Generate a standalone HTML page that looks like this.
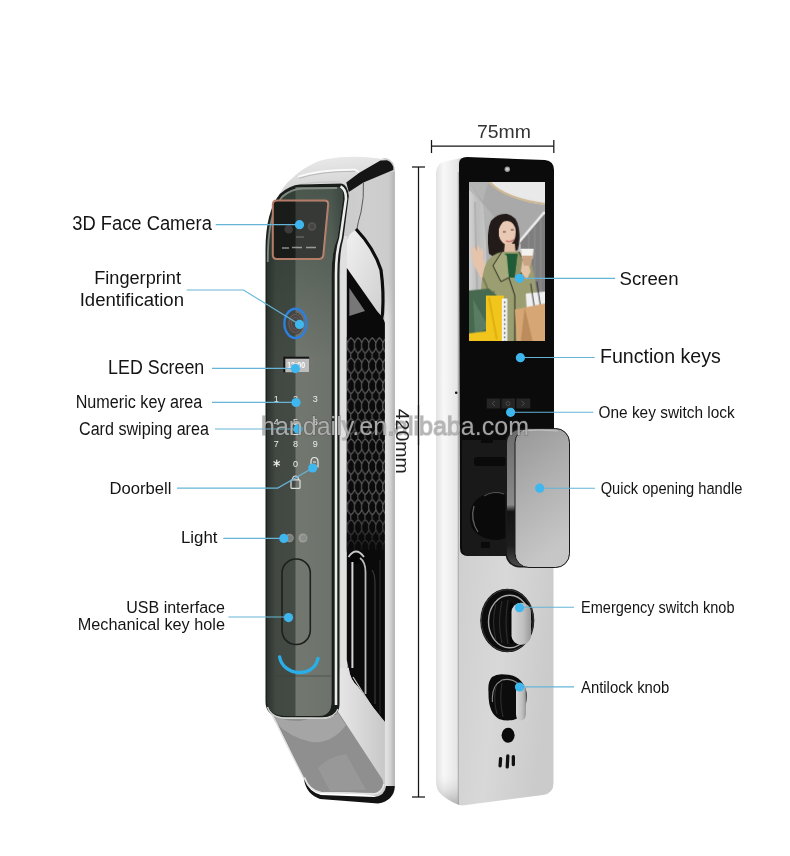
<!DOCTYPE html>
<html><head><meta charset="utf-8">
<style>
html,body{margin:0;padding:0;background:#fff;width:790px;height:856px;overflow:hidden}
svg{display:block;position:absolute;left:0;top:0;will-change:transform}
text{font-family:"Liberation Sans",sans-serif}
</style></head>
<body>
<svg width="790" height="856" viewBox="0 0 790 856">
<defs>
  <linearGradient id="hexFade" x1="0" y1="0" x2="0" y2="1">
    <stop offset="0" stop-color="#0a0a0a" stop-opacity="0"/>
    <stop offset="1" stop-color="#0a0a0a" stop-opacity="0.85"/>
  </linearGradient>
  <linearGradient id="greenTop" x1="0" y1="0" x2="0" y2="1">
    <stop offset="0" stop-color="#1c3024" stop-opacity="0.45"/>
    <stop offset="1" stop-color="#1c3024" stop-opacity="0"/>
  </linearGradient>
  <linearGradient id="vfade" x1="0" y1="0" x2="0" y2="1">
    <stop offset="0" stop-color="#fff" stop-opacity="0"/>
    <stop offset="0.09" stop-color="#fff" stop-opacity="1"/>
    <stop offset="1" stop-color="#fff" stop-opacity="1"/>
  </linearGradient>
  <mask id="barMask" maskUnits="userSpaceOnUse" x="380" y="270" width="20" height="540">
    <rect x="380" y="280" width="20" height="518" fill="url(#vfade)"/>
  </mask>
  <linearGradient id="edgeG" x1="0" y1="0" x2="1" y2="0">
    <stop offset="0" stop-color="#a0a0a0" stop-opacity="0"/>
    <stop offset="1" stop-color="#9a9a9a" stop-opacity="0.45"/>
  </linearGradient>
  <linearGradient id="sideB" x1="0" y1="0" x2="0" y2="1">
    <stop offset="0" stop-color="#ffffff" stop-opacity="0"/>
    <stop offset="1" stop-color="#8a8a8a" stop-opacity="0.6"/>
  </linearGradient>
  <linearGradient id="rimG" x1="0" y1="0" x2="0" y2="1">
    <stop offset="0" stop-color="#6c6c6c"/>
    <stop offset="0.55" stop-color="#8a8a8a"/>
    <stop offset="0.6" stop-color="#141414"/>
    <stop offset="0.85" stop-color="#1e1e1e"/>
    <stop offset="1" stop-color="#4a4a4a"/>
  </linearGradient>
  <linearGradient id="leverG" x1="0" y1="0" x2="1" y2="0">
    <stop offset="0" stop-color="#d6d6d6"/>
    <stop offset="0.6" stop-color="#c0c0c0"/>
    <stop offset="1" stop-color="#9a9a9a"/>
  </linearGradient>
  <linearGradient id="capG" x1="0" y1="0" x2="0.3" y2="1">
    <stop offset="0" stop-color="#ececec"/>
    <stop offset="0.6" stop-color="#dcdcdc"/>
    <stop offset="1" stop-color="#d2d2d2"/>
  </linearGradient>
  <linearGradient id="archG" x1="0" y1="0" x2="1" y2="1">
    <stop offset="0" stop-color="#f0f0f0"/>
    <stop offset="1" stop-color="#d0d0d0"/>
  </linearGradient>
  <linearGradient id="facetG" x1="0" y1="0" x2="1" y2="0">
    <stop offset="0" stop-color="#e8e8e8"/>
    <stop offset="1" stop-color="#c8c8c8"/>
  </linearGradient>
  <linearGradient id="barG" x1="0" y1="0" x2="1" y2="0">
    <stop offset="0" stop-color="#e2e2e2"/>
    <stop offset="0.6" stop-color="#dadada"/>
    <stop offset="1" stop-color="#c6c6c6"/>
  </linearGradient>
  <linearGradient id="chromeR" x1="0" y1="0" x2="1" y2="0">
    <stop offset="0" stop-color="#c9c9c9"/>
    <stop offset="0.5" stop-color="#d0cfd0"/>
    <stop offset="1" stop-color="#cbcbcb"/>
  </linearGradient>
  <linearGradient id="panelL" x1="0" y1="0" x2="1" y2="0">
    <stop offset="0" stop-color="#2c322d"/>
    <stop offset="0.12" stop-color="#424943"/>
    <stop offset="1" stop-color="#474d47"/>
  </linearGradient>
  <linearGradient id="stripe" x1="0" y1="0" x2="1" y2="0">
    <stop offset="0" stop-color="#72786f"/>
    <stop offset="0.75" stop-color="#6d736c"/>
    <stop offset="1" stop-color="#535a54"/>
  </linearGradient>
  <linearGradient id="sideW" x1="0" y1="0" x2="1" y2="0">
    <stop offset="0" stop-color="#e2e2e2"/>
    <stop offset="0.3" stop-color="#f8f8f8"/>
    <stop offset="0.8" stop-color="#e6e6e6"/>
    <stop offset="1" stop-color="#c8c8c8"/>
  </linearGradient>
  <linearGradient id="faceS" x1="0" y1="0" x2="1" y2="0.3">
    <stop offset="0" stop-color="#cfcfcf"/>
    <stop offset="0.5" stop-color="#d8d8d8"/>
    <stop offset="1" stop-color="#cbcbcb"/>
  </linearGradient>
  <linearGradient id="handleG" x1="0" y1="0" x2="0.3" y2="1">
    <stop offset="0" stop-color="#979797"/>
    <stop offset="0.5" stop-color="#b0b0b0"/>
    <stop offset="1" stop-color="#c6c6c6"/>
  </linearGradient>
  <linearGradient id="bottomG" x1="0" y1="0" x2="1" y2="1">
    <stop offset="0" stop-color="#a2a2a2"/>
    <stop offset="0.45" stop-color="#8e8e8e"/>
    <stop offset="1" stop-color="#9c9c9c"/>
  </linearGradient>
  <pattern id="hex" x="347.5" y="338" width="7.1" height="20.2" patternUnits="userSpaceOnUse">
    <rect width="7.1" height="20.2" fill="#0b0b0b"/>
    <path d="M0,5 Q1.2,1.2 3.55,0 Q5.9,1.2 7.1,5 M0,5 Q-0.6,7.5 0,10.1 M7.1,5 Q6.5,7.5 7.1,10.1 M0,10.1 Q1.2,13.9 3.55,15.1 Q5.9,13.9 7.1,10.1 M3.55,15.1 Q2.95,17.6 3.55,20.2 M-3.55,-5.1 L-3.55,0" stroke="#5e5e5e" stroke-width="1.05" fill="none"/>
  </pattern>
</defs>

<!-- ============ LEFT LOCK ============ -->
<!-- chrome body base -->
<path d="M340,186 L362,176 Q376,158 386,158 Q395,160 395,172 L395,786 Q395,798 386,798 L340,790 L336,700 Z" fill="url(#chromeR)"/>
<!-- cap -->
<path d="M279.7,194 Q285,184 290.8,179.6 Q300,170 309.8,165.4 Q318,160.5 327.2,159 Q340,156.5 354,156.7 Q372,157 382.6,159 Q389,161 392.9,168.6 L393,171 L363.6,181 L348.8,192 Q345,184.5 341.5,183.6 L300,184.5 Q288,186 279.7,194 Z" fill="url(#capG)"/>
<path d="M298,176.8 Q320,169.5 355.3,169.6 L359.3,172.2" stroke="#fbfbfb" stroke-width="1.6" fill="none"/>
<path d="M299,178.3 Q320,171.3 355,171.3" stroke="#a9a9a9" stroke-width="0.7" fill="none"/>
<path d="M285,190 Q300,181 340,182" stroke="#c8c8c8" stroke-width="1.2" fill="none"/>
<!-- black band -->
<path d="M346.3,182.4 L359.3,172.7 L380.4,160.5 L386.9,160.2 Q391.7,162 393.3,167 L393.3,170 L363.4,182.4 L348.8,192.1 Z" fill="#151515"/>
<rect x="340.3" y="236" width="7" height="432" fill="#e0e0e0"/>
<line x1="348.3" y1="240" x2="348.3" y2="668" stroke="#5a5a5a" stroke-width="1.2"/>
<!-- thin contour -->
<path d="M363.4,182.4 Q364.2,198 361,212 Q358,222 356.5,231" stroke="#5a5a5a" stroke-width="1" fill="none"/>
<!-- handle arch surface -->
<path d="M347,240 Q350,232 356,230 Q372,246 381,270 Q383,290 382.6,312 L377,311 L347,268 Z" fill="url(#archG)"/>
<path d="M356,229 Q374,248 381,270 Q384,292 382.6,313 Q382,322 376,323" stroke="#0e0e0e" stroke-width="3.2" fill="none"/>
<!-- cavity -->
<path d="M346.8,268 L377,311 L383,318 L385,323 L385,722 L373,707.3 L358,686.7 Q350,680 348.7,668 L346.8,660 Z" fill="#0a0a0a"/>
<path d="M349.3,288 L365,311 L349.3,316 Z" fill="#777"/>
<rect x="346.8" y="337" width="38.2" height="213" fill="url(#hex)"/>
<rect x="346.8" y="512" width="38.2" height="40" fill="url(#hexFade)"/>
<circle cx="355.5" cy="557" r="7" fill="#050505"/>
<!-- lower cavity lines -->
<path d="M348.5,557 Q356,546 364,557" stroke="#c8c8c8" stroke-width="1.8" fill="none"/>
<path d="M352.4,562 L352.4,668" stroke="#d6d6d6" stroke-width="2" fill="none"/>
<path d="M353,677 L372,707" stroke="#cfcfcf" stroke-width="1.2" fill="none"/>
<path d="M360,558 Q365.5,562 365.5,572 L365.5,694" stroke="#b8b8b8" stroke-width="1.8" fill="none"/>
<path d="M372,570 Q375,574 375,584 L375,704" stroke="#3a3a3a" stroke-width="1.2" fill="none"/>
<path d="M380,560 L380,714" stroke="#2a2a2a" stroke-width="1" fill="none"/>
<!-- lower chrome facet -->
<path d="M340,668 L348.7,668 Q350,680 358,686.7 L373,707.3 L385,722.5 L385,798 L382.3,779.2 L336.2,715.4 Z" fill="url(#facetG)"/>
<!-- right chrome bar -->
<rect x="384.9" y="280" width="9.9" height="508" fill="url(#barG)" mask="url(#barMask)"/>
<rect x="388" y="172" width="6.8" height="616" fill="url(#edgeG)"/>
<!-- bottom slanted piece -->
<path d="M268,705 Q274,718 290,719 L326,719 Q336,717 337,710 L382.3,779.2 Q386,788 378,793 L320,792 Q308,789 304.3,779.2 Z" fill="#8f8f8f"/>
<path d="M270,712 Q282,722 300,721 L337,712 L346,725 Q332,744 312,742 Q290,738 275,722 Z" fill="#b4b4b4" opacity="0.6"/>
<path d="M318,768 Q330,756 346,754 L366,790 L330,791 Z" fill="#a4a4a4" opacity="0.45"/>
<path d="M272,714 Q290,752 304.3,779.2" stroke="#dedede" stroke-width="1.2" fill="none"/>
<path d="M304,779 Q309,792 321,795 L374,797 Q385,796 386,786 L394.8,786 Q394,801 378,803.5 L320,799 Q306,794 304,779 Z" fill="#131313"/>
<path d="M304.5,777.5 Q309,790.5 321,792.5 L374,794 Q382,793 384,784" stroke="#e4e4e4" stroke-width="1.6" fill="none"/>
<!-- dark front panel -->
<path d="M279.7,194 Q290,185 300,184.5 L341.5,183.6 Q347.8,185 348.8,196 L343.5,238 Q339.5,252 339.5,275 L339.5,704 Q339.5,717.5 324,717.5 L284,717.5 Q265.5,716.5 265.5,702 L265.5,250 Q265.5,212 279.7,194 Z" fill="#1a1e1b"/>
<path d="M336,705 L336,275 Q336,252 340.5,238 L346,199 Q346,189 340.5,186.5" stroke="#ececec" stroke-width="2.6" fill="none"/>
<path d="M282,196 Q292,188 302,187.5 L338,187 Q343.5,188.5 343,198 L337.5,238 Q331.5,252 331.5,275 L331.5,702 Q331.5,716 318,716 L285,716 Q266.8,715 266.8,700 L266.8,250 Q266.8,213 282,196 Z" fill="url(#panelL)"/>
<path d="M295.5,187.3 L338,187 Q343.5,188.5 343,198 L337.5,238 Q331.5,252 331.5,275 L331.5,702 Q331.5,716 318,716 L295.5,716 Z" fill="url(#stripe)"/>
<path d="M282,196 Q292,188 302,187.5 L338,187 Q343.5,188.5 343,198 L337.5,238 Q331.5,252 331.5,275 L331.5,360 L267,360 L267,250 Q267,213 282,196 Z" fill="url(#greenTop)"/>
<path d="M267.8,262 Q267.5,214 282,197 Q291,189 302,188.5 L337,188" stroke="#8e958f" stroke-width="1.8" fill="none" opacity="0.85"/>
<path d="M267.5,707 Q271,717.5 286,718.3 L322,718.3 Q335,717.5 338,709" stroke="#cfd1cf" stroke-width="1.4" fill="none"/>
<!-- camera -->
<path d="M277,200.5 L324.5,200.5 Q328.6,200.5 328.2,204.6 L323.4,254.8 Q323,259 318.8,259 L277,259 Q272.8,259 272.8,254.8 L272.8,204.7 Q272.8,200.5 277,200.5 Z" fill="#1a1c1a" stroke="#b57c68" stroke-width="2"/>
<circle cx="288.7" cy="229.3" r="4.3" fill="#3c3a3a"/>
<circle cx="312" cy="226.5" r="4.3" fill="#3c3a3a"/>
<circle cx="312" cy="226.5" r="2.5" fill="#2a2828"/>
<path d="M282,248 L289,248 M292,247.5 L302,247.5 M306,247.5 L316,247.5" stroke="#8a8a8a" stroke-width="1.3"/>
<path d="M296,237 L304,237" stroke="#777" stroke-width="0.8"/>
<!-- glass reflection overlay on camera -->
<path d="M295.5,201 L328,201 L323,258 L295.5,258 Z" fill="#ffffff" opacity="0.13"/>
<!-- fingerprint -->
<ellipse cx="295.4" cy="323.4" rx="11" ry="14.6" fill="none" stroke="#2f7fdc" stroke-width="2.4"/>
<ellipse cx="295.4" cy="323.4" rx="8" ry="11" fill="#4a4644"/>
<ellipse cx="295.4" cy="323.4" rx="6.5" ry="9" fill="none" stroke="#6e6260" stroke-width="0.9"/>
<ellipse cx="295.4" cy="323.4" rx="4" ry="6" fill="none" stroke="#6a5e5c" stroke-width="0.9"/>
<!-- LED screen -->
<rect x="283.3" y="356.7" width="25.9" height="15.6" fill="#141414"/>
<rect x="285.3" y="358.7" width="23.9" height="13.6" fill="#bdbdbd"/>
<text x="296.2" y="368" font-size="8.6" font-weight="bold" fill="#fbfbfb" text-anchor="middle" textLength="18" lengthAdjust="spacingAndGlyphs">12:00</text>
<!-- keypad -->
<g font-size="9" fill="#ececec" text-anchor="middle">
<text x="276.2" y="401.5">1</text><text x="295.5" y="401.5">2</text><text x="315.2" y="401.5">3</text>
<text x="276.2" y="425">4</text><text x="295.5" y="425">5</text><text x="315.2" y="425">6</text>
<text x="276.2" y="447">7</text><text x="295.5" y="447">8</text><text x="315.2" y="447">9</text>
<text x="295.5" y="466.5">0</text>
</g>
<path d="M276.7,459.8 L276.7,467 M273.5,461.6 L279.9,465.2 M273.5,465.2 L279.9,461.6" stroke="#ececec" stroke-width="1.2"/>
<path d="M311,467.5 L311,462 Q311,457.5 314.5,457.5 Q318,457.5 318,462 L318,467.5 M313,462 L316,462 M312.5,465.5 L316.5,465.5" stroke="#e6e6e6" stroke-width="1.2" fill="none"/>
<path d="M292.5,480 Q292.5,476 295.5,476 Q298.5,476 298.5,480" stroke="#e0e0e0" stroke-width="1.2" fill="none"/>
<rect x="291" y="479.8" width="9" height="8.6" rx="1" stroke="#e0e0e0" stroke-width="1.2" fill="none"/>
<rect x="291.5" y="423.5" width="8" height="11" rx="1.5" stroke="#dcdcdc" stroke-width="1" fill="none"/>
<path d="M293,430 L298,430" stroke="#dcdcdc" stroke-width="0.8"/>
<!-- lights -->
<circle cx="289.5" cy="538" r="4.3" fill="#8e8e8c"/>
<circle cx="290" cy="538" r="2.8" fill="#7c7c7a"/>
<circle cx="303" cy="538" r="4.5" fill="#9c9e9a"/>
<circle cx="303.5" cy="538" r="3" fill="#8c8e8a"/>
<!-- USB cover -->
<rect x="282" y="559" width="28.3" height="85.5" rx="14" ry="14" fill="none" stroke="#1e201e" stroke-width="1.6"/>
<!-- seam -->
<path d="M268,676 L331,676" stroke="#3a3e3a" stroke-width="1" opacity="0.6"/>
<!-- smile -->
<path d="M279.6,657 C283.5,677 314,678 318,658.5" stroke="#2aaee8" stroke-width="3.4" fill="none" stroke-linecap="round"/>

<!-- ============ RIGHT LOCK ============ -->
<!-- side white -->
<path d="M447,161 L462,158 L462,805 L459,805 Q446,800 439,792 Q436,788 436,780 L436,175 Q436,162 447,161 Z" fill="url(#sideW)"/>
<path d="M436,770 L436,780 Q436,788 439,792 Q446,800 459,805 L462,805 L462,770 Z" fill="url(#sideB)" />
<line x1="458.3" y1="172" x2="458.3" y2="804" stroke="#a0a0a0" stroke-width="0.9"/>
<!-- silver lower face -->
<path d="M459,540 L553.5,540 L553.5,783 Q553.5,793.5 543,795 L462,805.5 Q459,805.5 459,803 Z" fill="url(#faceS)"/>
<!-- black screen face -->
<path d="M459,164 Q459,157 467,157 L545,160 Q554,161 554,170 L554,445 L520,445 L520,540 L506,556 L468,556 Q460,556 460,548 Z" fill="#0b0b0b"/>
<circle cx="507.3" cy="169.2" r="2.7" fill="#9a9a9a"/>
<circle cx="507.3" cy="169.2" r="1.4" fill="#cfcfcf"/>
<circle cx="456.2" cy="392.8" r="1.3" fill="#111"/>
<!-- photo -->
<svg x="469" y="182" width="75.6" height="159.3" viewBox="0 0 76 160" preserveAspectRatio="none">
  <defs>
    <linearGradient id="ph_bg" x1="0" y1="0" x2="0" y2="1">
      <stop offset="0" stop-color="#b9b9b9"/>
      <stop offset="1" stop-color="#a2a2a2"/>
    </linearGradient>
    <linearGradient id="ph_wall" x1="0" y1="0" x2="1" y2="0">
      <stop offset="0" stop-color="#d2d2d2"/>
      <stop offset="0.5" stop-color="#bdbdbd"/>
      <stop offset="1" stop-color="#c8c8c8"/>
    </linearGradient>
  </defs>
  <rect width="76" height="160" fill="url(#ph_bg)"/>
  <!-- ceiling -->
  <path d="M0,0 L76,0 L76,30 L50,60 L30,40 L14,22 Z" fill="#a9a9a9"/>
  <path d="M22,0 Q38,18 76,23 L76,0 Z" fill="#e9e9e9"/>
  <path d="M20,0 Q37,17 76,22" stroke="#cdb995" stroke-width="2.2" fill="none"/>
  <path d="M0,0 L20,0 Q17,6 14,20" fill="#b4b4b4"/>
  <!-- left wall -->
  <path d="M0,8 L14,22 L17,60 L18,108 L0,112 Z" fill="url(#ph_wall)"/>
  <path d="M6,20 L8,108" stroke="#aaaaaa" stroke-width="2" opacity="0.7"/>
  <!-- right wall -->
  <path d="M50,60 L76,29 L76,160 L52,160 Z" fill="#7e7e7e"/>
  <path d="M48,63 L76,30" stroke="#eeeeee" stroke-width="2.6"/>
  <path d="M51,62 L52,160" stroke="#d8d8d8" stroke-width="1.5"/>
  <path d="M60,52 L60,160 M66,45 L66,160 M72,38 L72,160" stroke="#909090" stroke-width="1.2"/>
  <!-- hair back -->
  <path d="M20,72 Q17,50 22,39 Q29,31 38,32 Q48,34 50,46 Q52,58 49,68 L42,72 L26,76 Z" fill="#221b19"/>
  <!-- face -->
  <path d="M30,47 Q31,39 38.5,39 Q46.5,40 47,50 Q47,60 40,64 Q32,62 30,54 Z" fill="#e9c9b4"/>
  <path d="M24,41 Q30,35 39,36 Q33,39 30,47 L27,58 Z" fill="#221b19"/>
  <path d="M37,59 Q41,61 45,58" stroke="#c46a6a" stroke-width="1.2" fill="none"/>
  <path d="M34,50 L37,50 M42,48 L45,48" stroke="#3a2a26" stroke-width="0.9"/>
  <!-- neck -->
  <path d="M36,62 L46,62 L47,72 L35,72 Z" fill="#e2bea6"/>
  <!-- raised hand -->
  <path d="M2,68 Q3,62 6,66 L8,70 L9,63 Q11,64 11,70 L12,66 Q15,68 14,76 L20,96 L14,100 L4,82 Z" fill="#e6c4ab"/>
  <!-- coat -->
  <path d="M12,160 L12,110 Q13,90 18,80 Q24,72 33,70 L50,70 Q60,74 64,86 L68,110 L66,160 Z" fill="#9b9e70"/>
  <path d="M35,72 L49,72 L46,96 L40,96 Z" fill="#1f5b37"/>
  <path d="M33,70 L24,84 L32,100 L40,96 L38,74 Z" fill="#a7aa7c"/>
  <path d="M50,70 L56,82 L50,98 L46,96 Z" fill="#8f9264"/>
  <path d="M33,70 L24,84 L32,100 L40,96 L46,114 L46,160" stroke="#2a2a1e" stroke-width="1" fill="none"/>
  <path d="M50,70 L56,82 L50,98" stroke="#2a2a1e" stroke-width="0.9" fill="none"/>
  <path d="M14,96 Q18,104 20,112 L26,110" stroke="#7d8058" stroke-width="2" fill="none"/>
  <!-- right arm + cup -->
  <path d="M56,84 Q64,88 66,100 L64,116 L56,118 L58,100 Z" fill="#9b9e70"/>
  <path d="M54,76 Q60,80 62,90 L58,98 L52,90 Z" fill="#e6c4aa"/>
  <path d="M52,67 L65,67 L64,77 L53,77 Z" fill="#f4f2ee"/>
  <path d="M53,74 L64,74 L62,84 L55,84 Z" fill="#caa584"/>
  <!-- bags -->
  <path d="M0,109 L20,107 L28,114 L25,152 L0,156 Z" fill="#46694f"/>
  <path d="M4,118 L20,146 L6,154 Z" fill="#5a7c62"/>
  <path d="M17,114 L35,114 L35,160 L0,160 L0,152 L17,150 Z" fill="#f2c51c"/>
  <path d="M20,116 L28,158" stroke="#e0b010" stroke-width="2"/>
  <rect x="33" y="117" width="5.5" height="43" fill="#f2f2f2"/>
  <path d="M35.7,120 L35.7,160" stroke="#555" stroke-width="1.4" stroke-dasharray="1.6,2.8"/>
  <path d="M57,112 L76,110 L76,127 L58,128 Z" fill="#f0f0f0"/>
  <path d="M62,102 L66,128 M68,100 L72,126" stroke="#2a2a2a" stroke-width="0.9"/>
  <path d="M46,128 L76,122 L76,160 L48,160 Z" fill="#d6a775"/>
  <path d="M56,126 L64,160 L52,160 Z" fill="#bd8c5c"/>
</svg>
<!-- function keys -->
<rect x="486.7" y="398.5" width="13.5" height="10" fill="#252525"/>
<rect x="501.5" y="398.5" width="13.5" height="10" fill="#252525"/>
<rect x="516.3" y="398.5" width="14" height="10" fill="#252525"/>
<path d="M495,401 L492,403.5 L495,406 M508,403.5 m-2,0 a2,2 0 1,0 4,0 a2,2 0 1,0 -4,0 M521.5,401 L524.5,403.5 L521.5,406" stroke="#555" stroke-width="0.8" fill="none"/>
<!-- cavity internals -->
<path d="M462,440 L506,440 L506,556 L470,556 Q462,556 462,548 Z" fill="#191919"/>
<rect x="474" y="457" width="32" height="9" rx="3" fill="#0a0a0a"/>
<rect x="481" y="438" width="12" height="5" fill="#0a0a0a"/>
<path d="M506,495 Q490,488 476,500 Q466,512 472,528 Q480,540 498,540 L506,538 Z" fill="#0a0a0a"/>
<path d="M474,506 Q470,520 478,532" stroke="#666" stroke-width="1.2" fill="none"/>
<path d="M484,496 Q494,490 504,494" stroke="#555" stroke-width="1" fill="none"/>
<rect x="481" y="542" width="9" height="6" fill="#0a0a0a"/>
<!-- handle -->
<rect x="505.5" y="428.5" width="64" height="139" rx="14" fill="#1a1a1a"/>
<rect x="507" y="430" width="62" height="136" rx="13" fill="url(#rimG)"/>
<rect x="515" y="428.5" width="54.5" height="139" rx="14" fill="url(#handleG)" stroke="#1a1a1a" stroke-width="1"/>
<path d="M520,431 Q540,429 558,431" stroke="#d8d8d8" stroke-width="1" fill="none" opacity="0.6"/>
<!-- knob 1 -->
<ellipse cx="507.3" cy="620.5" rx="27" ry="31.8" fill="#0c0c0c"/>
<ellipse cx="507.3" cy="620.5" rx="26" ry="30.8" fill="none" stroke="#3a3a3a" stroke-width="1"/>
<ellipse cx="509.5" cy="621.5" rx="21" ry="26.3" fill="none" stroke="#a8a8a8" stroke-width="1.4"/>
<ellipse cx="510.5" cy="622" rx="18" ry="23.5" fill="#0e0e0e"/>
<path d="M496,604 Q491,622 496,640 M502,601 Q497,622 502,643 M508,600 Q504,622 508,644" stroke="#2e2e2e" stroke-width="1.1" fill="none"/>
<rect x="509.5" y="603" width="4" height="41" rx="2" fill="#050505"/>
<rect x="511.5" y="602.8" width="19.5" height="42" rx="9.5" fill="url(#leverG)"/>
<!-- knob 2 -->
<path d="M488.5,692 Q487.5,682 492,677 Q497,673.5 505,674.5 Q522,675 526.5,692 Q528,712 516,719 Q508,722 499,719 Q488,713 488.5,692 Z" fill="#0c0c0c"/>
<path d="M492.5,702 Q491,686 502,680 Q514,677 522,688" stroke="#8a8a8a" stroke-width="1.1" fill="none"/>
<path d="M496,686 Q493,700 497,714 M502,683 Q499,700 503,717" stroke="#2e2e2e" stroke-width="1.1" fill="none"/>
<path d="M516,690 Q516,683.5 520.5,683.5 Q525.5,684 525.8,690 L526,714 Q525.5,720.5 520.8,720.5 Q516.2,720.3 516,714 Z" fill="url(#leverG)"/>
<ellipse cx="508.1" cy="735.3" rx="6.5" ry="7.5" fill="#0a0a0a"/>
<rect x="498.7" y="756.9" width="3.3" height="10.6" rx="1.6" fill="#111" transform="rotate(4 500.3 762)"/>
<rect x="505.9" y="754.3" width="3.3" height="14.3" rx="1.6" fill="#111" transform="rotate(3 507.5 761)"/>
<rect x="511.7" y="755" width="3.3" height="11.2" rx="1.6" fill="#111"/>

<!-- ============ DIMENSIONS ============ -->
<g stroke="#151515" stroke-width="1.25">
<line x1="431.5" y1="146" x2="553.8" y2="146"/>
<line x1="431.5" y1="140" x2="431.5" y2="153"/>
<line x1="553.8" y1="140" x2="553.8" y2="153"/>
<line x1="418.5" y1="167" x2="418.5" y2="797"/>
<line x1="412" y1="167" x2="425" y2="167"/>
<line x1="412" y1="797" x2="425" y2="797"/>
</g>
<text x="477" y="137.5" font-size="19" fill="#333" textLength="54" lengthAdjust="spacingAndGlyphs">75mm</text>

<!-- ============ CALLOUT LINES ============ -->
<g stroke="#66b5d8" stroke-width="1.15" fill="none">
<line x1="215.7" y1="224.6" x2="299.5" y2="224.6"/>
<polyline points="186.6,290 243.5,290 299.5,324.4"/>
<line x1="212" y1="368.4" x2="295.4" y2="368.4"/>
<line x1="212" y1="402.3" x2="296" y2="402.3"/>
<line x1="215" y1="429" x2="298" y2="429"/>
<polyline points="177,488.1 277.7,488.1 312.7,468"/>
<line x1="223.3" y1="538.4" x2="283.8" y2="538.4"/>
<line x1="228.4" y1="617" x2="288.5" y2="617"/>
<line x1="519.3" y1="278.3" x2="615.2" y2="278.3"/>
<line x1="520.4" y1="357.5" x2="594.7" y2="357.5"/>
<line x1="510.6" y1="412.2" x2="593.4" y2="412.2"/>
<line x1="539.7" y1="488.2" x2="595" y2="488.2"/>
<line x1="519.5" y1="607.2" x2="574" y2="607.2"/>
<line x1="519.5" y1="686.8" x2="574" y2="686.8"/>
</g>
<g fill="#3eb6ee">
<circle cx="299.5" cy="224.7" r="4.6"/>
<circle cx="299.5" cy="324.4" r="4.6"/>
<circle cx="295.4" cy="368.6" r="4.6"/>
<circle cx="296" cy="402.5" r="4.6"/>
<circle cx="298" cy="428.9" r="4.6"/>
<circle cx="312.7" cy="468" r="4.6"/>
<circle cx="283.8" cy="538.4" r="4.6"/>
<circle cx="288.5" cy="617.6" r="4.6"/>
<circle cx="519.3" cy="278.3" r="4.6"/>
<circle cx="520.4" cy="357.7" r="4.6"/>
<circle cx="510.6" cy="412.3" r="4.6"/>
<circle cx="539.7" cy="488.2" r="4.6"/>
<circle cx="519.5" cy="607.7" r="4.6"/>
<circle cx="519.5" cy="687" r="4.6"/>
</g>

<!-- ============ LABELS ============ -->
<g fill="#141414">
<text x="72.2" y="229.9" font-size="19.5" textLength="139.7" lengthAdjust="spacingAndGlyphs">3D Face Camera</text>
<text x="94.2" y="284" font-size="17.6" textLength="86.8" lengthAdjust="spacingAndGlyphs">Fingerprint</text>
<text x="79.7" y="305.8" font-size="17.6" textLength="104.3" lengthAdjust="spacingAndGlyphs">Identification</text>
<text x="108.1" y="373.7" font-size="19.5" textLength="96.2" lengthAdjust="spacingAndGlyphs">LED Screen</text>
<text x="75.7" y="407.8" font-size="17.6" textLength="126.6" lengthAdjust="spacingAndGlyphs">Numeric key area</text>
<text x="79" y="435" font-size="17.6" textLength="129.9" lengthAdjust="spacingAndGlyphs">Card swiping area</text>
<text x="109.4" y="493.7" font-size="17.3" textLength="62" lengthAdjust="spacingAndGlyphs">Doorbell</text>
<text x="181" y="542.9" font-size="16.6" textLength="36.5" lengthAdjust="spacingAndGlyphs">Light</text>
<text x="126.3" y="612.5" font-size="16.7" textLength="98.7" lengthAdjust="spacingAndGlyphs">USB interface</text>
<text x="77.7" y="630.3" font-size="16.4" textLength="147.3" lengthAdjust="spacingAndGlyphs">Mechanical key hole</text>
<text x="619.5" y="284.7" font-size="19.2" textLength="59" lengthAdjust="spacingAndGlyphs">Screen</text>
<text x="600" y="363.4" font-size="19.5" textLength="120.8" lengthAdjust="spacingAndGlyphs">Function keys</text>
<text x="598.5" y="417.6" font-size="17.3" textLength="136.2" lengthAdjust="spacingAndGlyphs">One key switch lock</text>
<text x="600.7" y="494.2" font-size="16.3" textLength="141.6" lengthAdjust="spacingAndGlyphs">Quick opening handle</text>
<text x="581" y="613.4" font-size="16.3" textLength="153.5" lengthAdjust="spacingAndGlyphs">Emergency switch knob</text>
<text x="581" y="692.8" font-size="15.8" textLength="88.4" lengthAdjust="spacingAndGlyphs">Antilock knob</text>
</g>

<!-- watermark -->
<text x="261" y="435" font-size="25" fill="#b2b2b2" fill-opacity="0.92" stroke="#3c3c3c" stroke-opacity="0.28" stroke-width="1.5" paint-order="stroke" textLength="268" lengthAdjust="spacingAndGlyphs">handaily.en.alibaba.com</text>
<text transform="translate(395.5,408.7) rotate(90)" x="0" y="0" font-size="19" fill="#222" textLength="65" lengthAdjust="spacingAndGlyphs" dy="0">420mm</text>
<line x1="418.5" y1="405" x2="418.5" y2="445" stroke="#151515" stroke-width="1.25"/>
</svg>
</body></html>
